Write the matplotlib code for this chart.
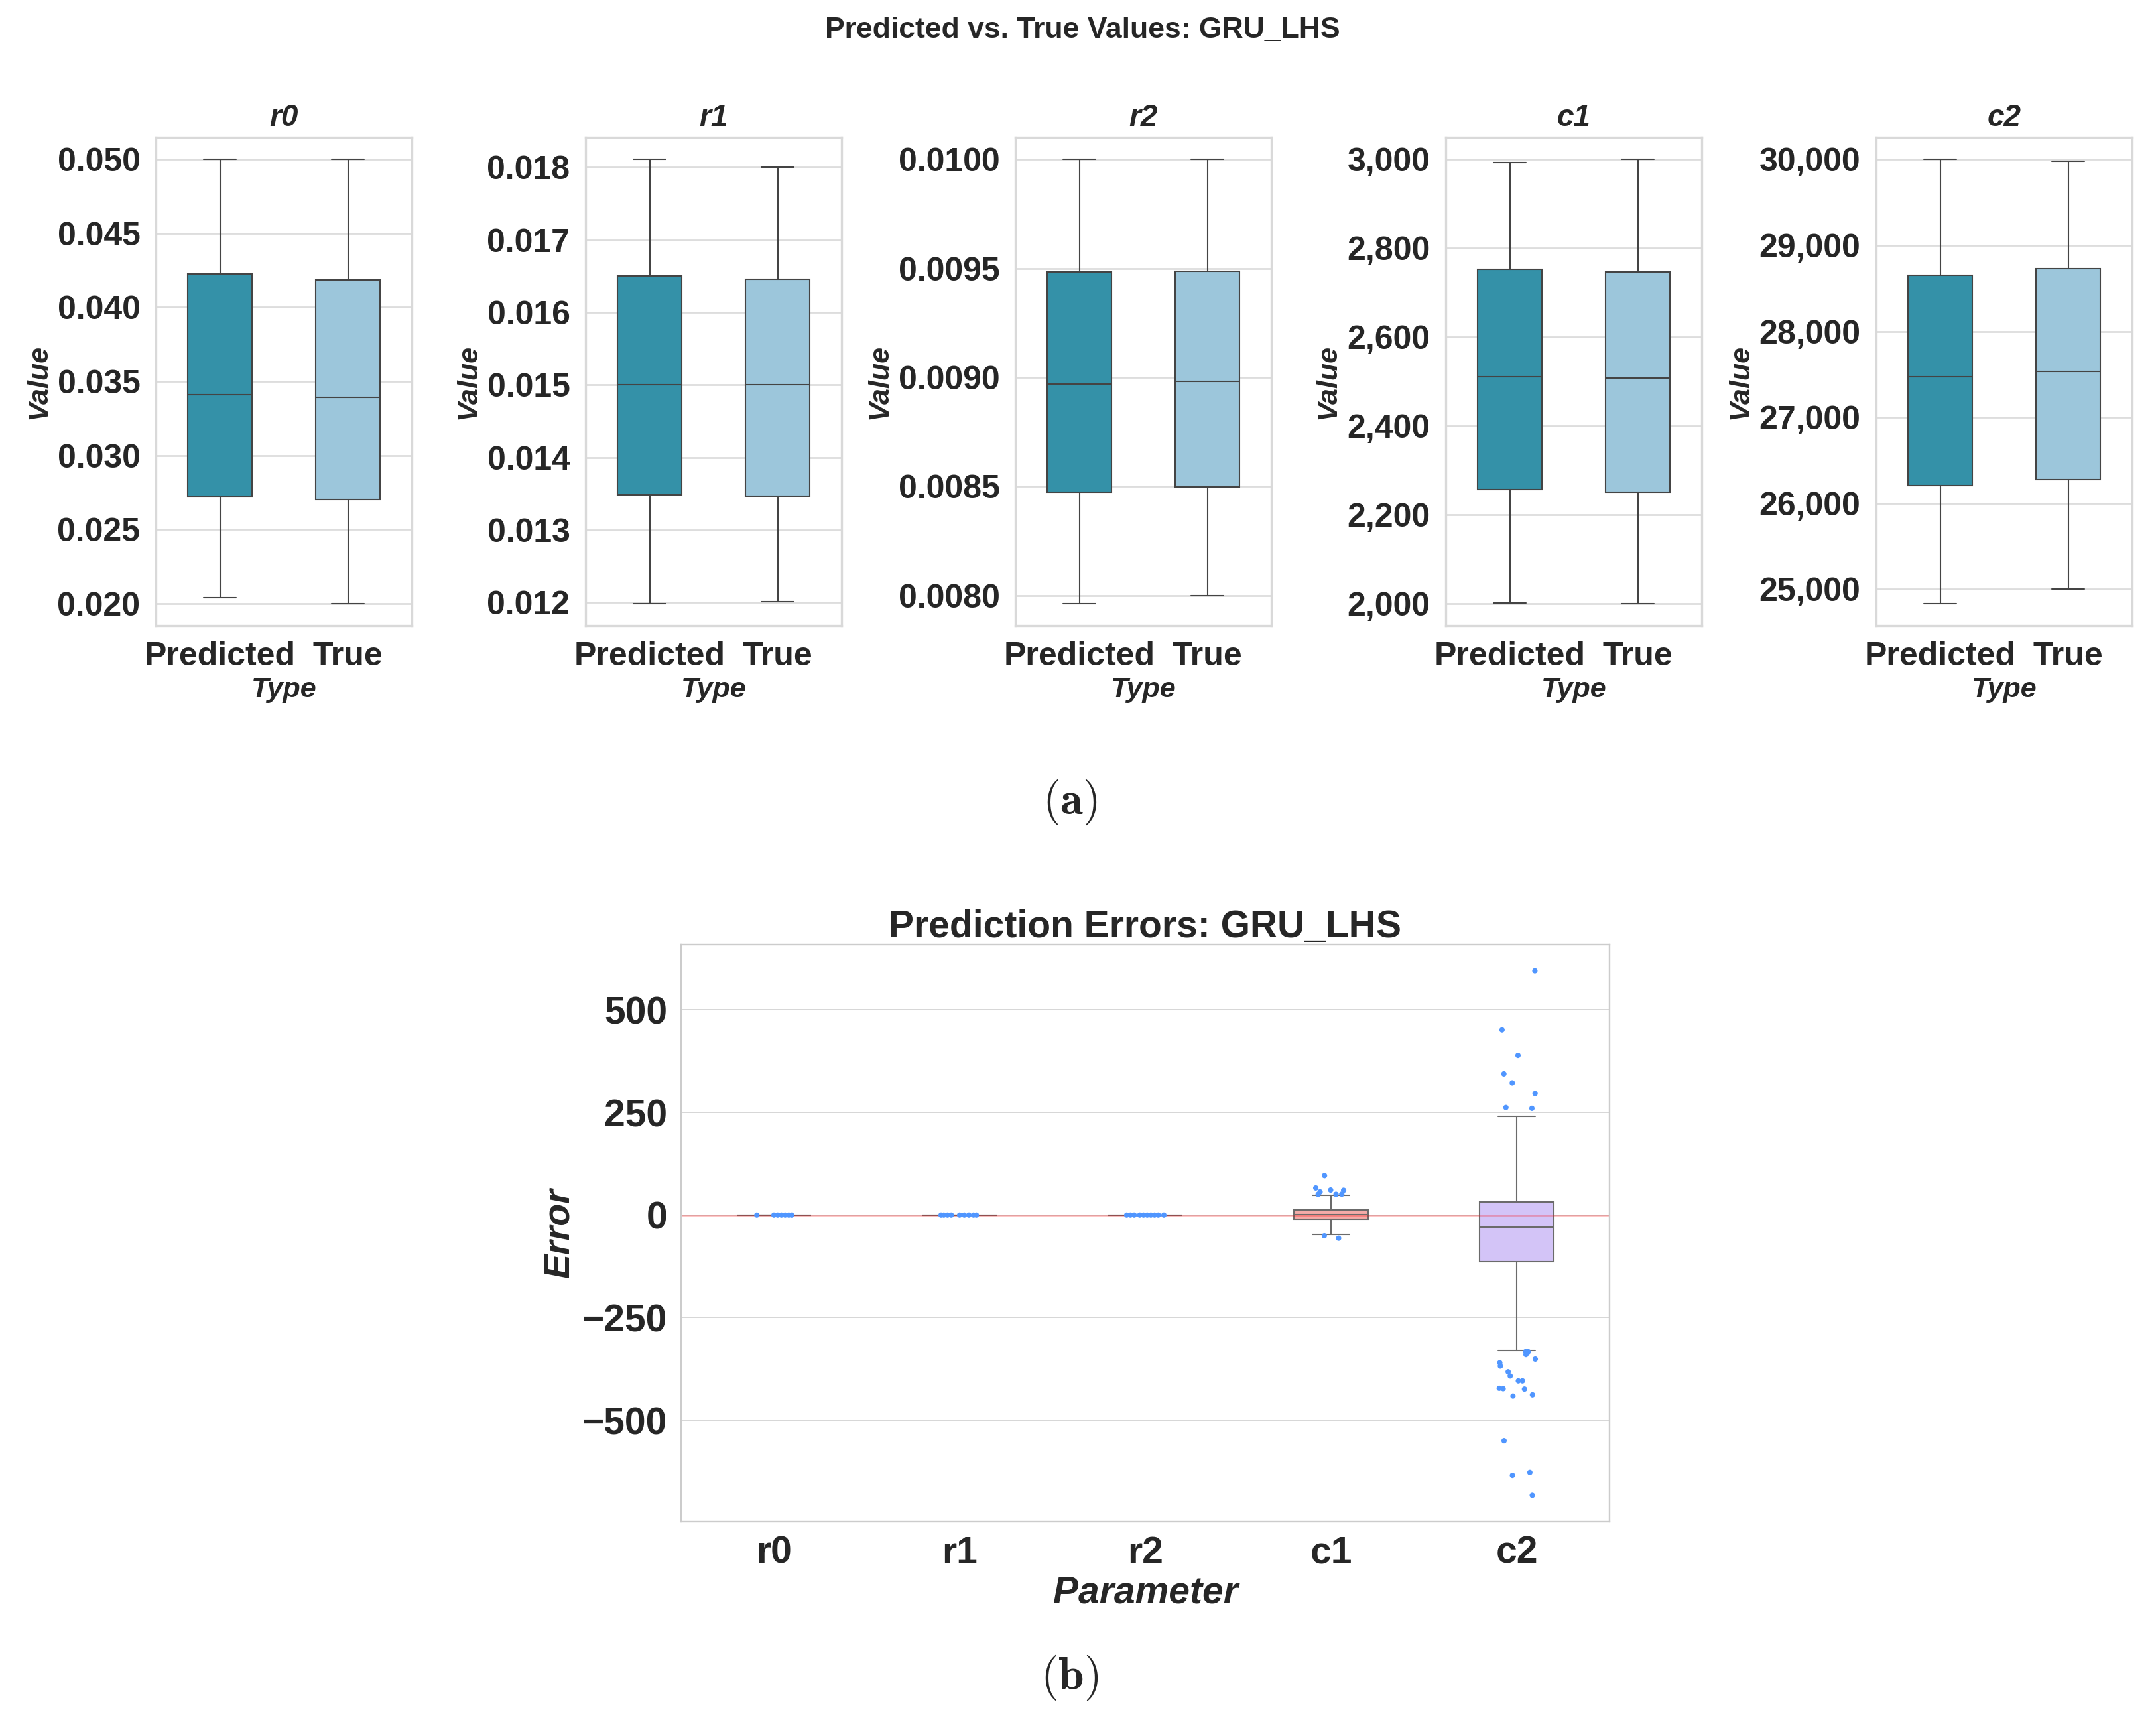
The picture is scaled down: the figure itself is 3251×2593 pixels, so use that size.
import numpy as np
import matplotlib
matplotlib.use("Agg")
import matplotlib.pyplot as plt
import seaborn as sns
from matplotlib.ticker import MultipleLocator, StrMethodFormatter

# --- data ---
params = ["r0", "r1", "r2", "c1", "c2"]
types = ["Predicted", "True"]

# five-number summaries of the predicted / true values, one entry per parameter
pred_low = [0.02038, 0.01199, 0.007964, 2001, 24837]
pred_q1 = [0.02719, 0.01349, 0.008474, 2256, 26209]
pred_med = [0.03410, 0.01500, 0.008970, 2510, 27473]
pred_q3 = [0.04227, 0.01650, 0.009483, 2752, 28655]
pred_high = [0.05000, 0.01811, 0.010000, 2993, 30000]

true_low = [0.02000, 0.01201, 0.008000, 2000, 25000]
true_q1 = [0.02700, 0.01347, 0.008498, 2250, 26274]
true_med = [0.03394, 0.01500, 0.008981, 2508, 27538]
true_q3 = [0.04186, 0.01646, 0.009487, 2747, 28731]
true_high = [0.05000, 0.01800, 0.010000, 3000, 29984]

# prediction errors, per parameter
err_low = [-0.0006, -0.0002, -0.00012, -46.7, -330]
err_q1 = [-0.0002, -0.00007, -0.00004, -10.7, -113]
err_med = [0.0, 0.0, 0.0, 0.5, -29]
err_q3 = [0.0002, 0.00007, 0.00004, 12.9, 32]
err_high = [0.0006, 0.0002, 0.00012, 48.8, 240]

# outlier errors and their strip jitter (category units)
r0_out = [-0.0009, 0.0008, -0.0010, 0.0011, 0.0009, -0.0008, 0.0012]
r0_jit = [-0.092, 0.0, 0.02, 0.04, 0.06, 0.08, 0.095]
r1_out = [0.0004, -0.0004, 0.0005, -0.0003, 0.0004, -0.0005, 0.0003, -0.0004, 0.0005]
r1_jit = [-0.10, -0.085, -0.065, -0.045, 0.0, 0.025, 0.05, 0.075, 0.09]
r2_out = [0.0003, -0.0003, 0.0002, -0.0004, 0.0003, -0.0002, 0.0004, -0.0003, 0.0002, 0.0003]
r2_jit = [-0.10, -0.08, -0.06, -0.03, -0.01, 0.01, 0.03, 0.05, 0.07, 0.10]
c1_out = [96, 66, 56.4, 50.5, 61, 50.5, 51, 60.4, -50.5, -56.4]
c1_jit = [-0.035, -0.082, -0.059, -0.069, -0.002, 0.027, 0.058, 0.068, -0.036, 0.041]
c2_out = [595, 451, 389, 344, 322, 296, 262, 260,
          -333, -333, -340, -351, -360, -368, -382, -392, -404, -404,
          -422, -423, -424, -438, -441, -550, -627, -634, -683]
c2_jit = [0.098, -0.079, 0.007, -0.069, -0.024, 0.099, -0.058, 0.082,
          0.048, 0.062, 0.050, 0.100, -0.091, -0.088, -0.046, -0.035, 0.009, 0.031,
          -0.094, -0.073, 0.042, 0.085, -0.020, -0.068, 0.071, -0.023, 0.084]

outliers = [r0_out, r1_out, r2_out, c1_out, c2_out]
jitters = [r0_jit, r1_jit, r2_jit, c1_jit, c2_jit]

# --- style ---
sns.set_style("whitegrid")
plt.rcParams["font.family"] = ["Liberation Sans", "DejaVu Sans"]
plt.rcParams["mathtext.fontset"] = "cm"
txt = "#262626"

pred_color = "#3491a8"
true_color = "#9cc6db"
box_line = "#444444"
pastel = sns.color_palette("pastel")
err_colors = [sns.desaturate(pastel[i], 0.75) for i in range(5)]
dot_color = "#5096ff"

W, H = 3251, 2593
fig = plt.figure(figsize=(W / 100, H / 100), dpi=100)


def stats(lo, q1, med, q3, hi):
    return dict(whislo=lo, q1=q1, med=med, q3=q3, whishi=hi, fliers=[])


# --- top row: predicted vs true ---
lefts = [235, 883, 1531, 2180, 2829]
top_px, bot_px = 207, 943
formats = ["{x:.3f}", "{x:.3f}", "{x:.4f}", "{x:,.0f}", "{x:,.0f}"]
steps = [0.005, 0.001, 0.0005, 200, 1000]

for i, p in enumerate(params):
    ax = fig.add_axes([lefts[i] / W, 1 - bot_px / H, 386 / W, (bot_px - top_px) / H])
    s = [stats(pred_low[i], pred_q1[i], pred_med[i], pred_q3[i], pred_high[i]),
         stats(true_low[i], true_q1[i], true_med[i], true_q3[i], true_high[i])]
    lp = dict(color=box_line, linewidth=1.5)
    bp = ax.bxp(s, positions=[0, 1], widths=0.5, patch_artist=True, showfliers=False,
                boxprops=dict(edgecolor=box_line, linewidth=1.5),
                whiskerprops=lp, capprops=lp, medianprops=lp)
    for patch, c in zip(bp["boxes"], [pred_color, true_color]):
        patch.set_facecolor(c)
    ax.set_xlim(-0.5, 1.5)
    ax.set_xticks([0, 1])
    ax.set_xticklabels(types)
    ax.yaxis.set_major_locator(MultipleLocator(steps[i]))
    ax.yaxis.set_major_formatter(StrMethodFormatter(formats[i]))
    ax.xaxis.grid(False)
    ax.yaxis.grid(True, color="#dddddd", linewidth=2)
    ax.set_axisbelow(True)
    for sp in ax.spines.values():
        sp.set_color("#d9d9d9")
        sp.set_linewidth(2.4)
    ax.tick_params(axis="both", length=0, pad=17, labelsize=36, labelcolor=txt)
    for lab in ax.get_xticklabels() + ax.get_yticklabels():
        lab.set_fontweight("bold")
    ax.set_title(p, fontsize=33, fontweight="bold", fontstyle="italic", color=txt, pad=12)
    ax.set_xlabel("Type", fontsize=31, fontweight="bold", fontstyle="italic", color=txt, labelpad=5)
    ax.set_ylabel("Value", fontsize=31, fontweight="bold", fontstyle="italic", color=txt, labelpad=6)

fig.text(0.502, 1 - 46 / H, "Predicted vs. True Values: GRU_LHS", ha="center", va="center",
         fontsize=32, fontweight="bold", color=txt)
fig.text(1613 / W, 1 - 1209 / H, r"$(\mathbf{a})$", ha="center", va="center", fontsize=50)

# --- bottom: prediction errors ---
axb = fig.add_axes([1027 / W, 1 - 2294 / H, 1400 / W, (2294 - 1424) / H])
es = [stats(err_low[i], err_q1[i], err_med[i], err_q3[i], err_high[i]) for i in range(5)]
lp = dict(color="#6b6b6b", linewidth=1.5)
bp = axb.bxp(es, positions=range(5), widths=0.4, patch_artist=True, showfliers=False,
             boxprops=dict(edgecolor="#6b6b6b", linewidth=1.5),
             whiskerprops=lp, capprops=lp, medianprops=lp)
for patch, c in zip(bp["boxes"], err_colors):
    patch.set_facecolor(c)
for i in range(5):
    axb.scatter(np.array(jitters[i]) + i, outliers[i], s=34, color=dot_color,
                edgecolors="none", zorder=3)
axb.axhline(0, color="red", alpha=0.25, linewidth=2, zorder=2.5)

axb.set_xlim(-0.5, 4.5)
axb.set_ylim(-747, 659)
axb.set_xticks(range(5))
axb.set_xticklabels(params)
axb.yaxis.set_major_locator(MultipleLocator(250))
axb.xaxis.grid(False)
axb.yaxis.grid(True, color="#d0d0d0", linewidth=1.2)
axb.set_axisbelow(True)
for sp in axb.spines.values():
    sp.set_color("#cccccc")
    sp.set_linewidth(1.7)
axb.tick_params(axis="both", length=0, pad=15, labelsize=41, labelcolor=txt)
for lab in axb.get_xticklabels() + axb.get_yticklabels():
    lab.set_fontweight("bold")
axb.set_title("Prediction Errors: GRU_LHS", fontsize=41, fontweight="bold", color=txt, pad=8)
axb.set_xlabel("Parameter", fontsize=41, fontweight="bold", fontstyle="italic", color=txt, labelpad=4)
axb.set_ylabel("Error", fontsize=40, fontweight="bold", fontstyle="italic", color=txt, labelpad=6)

fig.text(1613 / W, 1 - 2529 / H, r"$(\mathbf{b})$", ha="center", va="center", fontsize=50)

fig.savefig("out.png", dpi=100)
